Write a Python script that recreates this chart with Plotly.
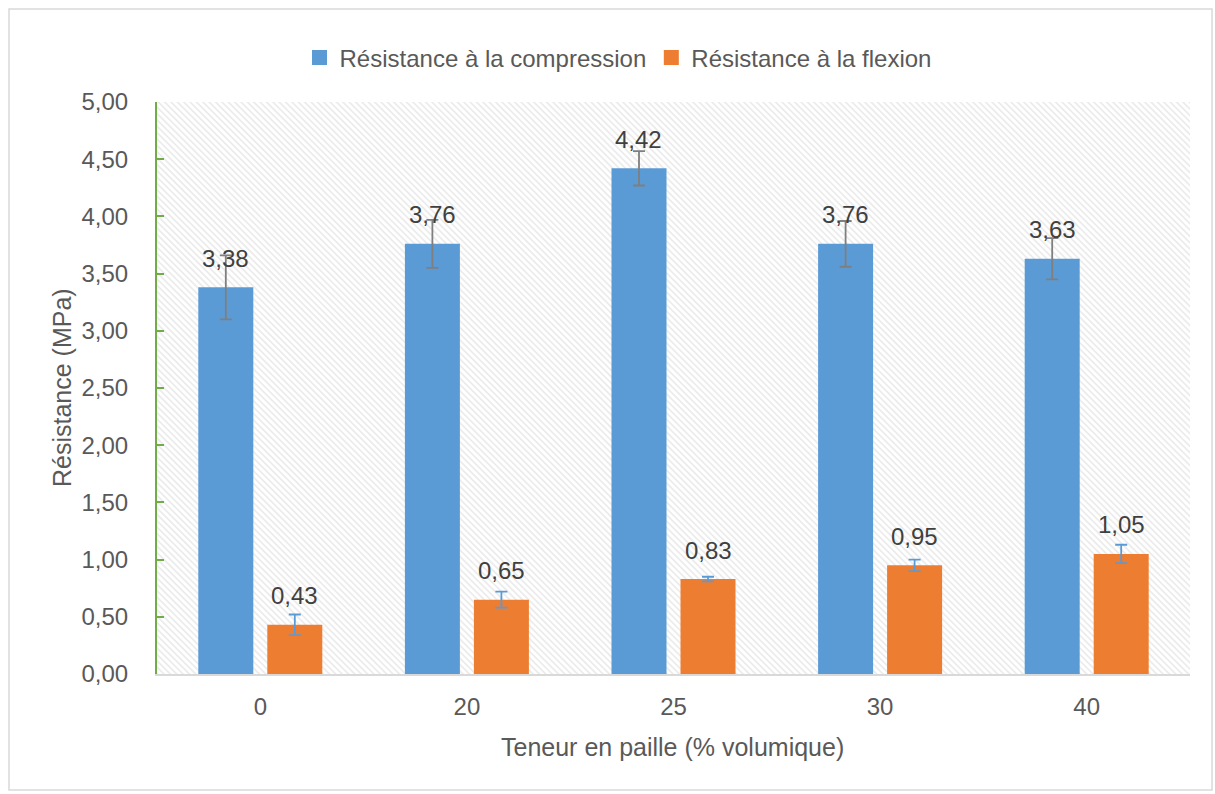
import base64
import plotly.graph_objects as go

# Straw content categories (% by volume)
categories = ["0", "20", "25", "30", "40"]

# Mean strengths (MPa) and their error margins
compression = [3.38, 3.76, 4.42, 3.76, 3.63]
compression_err = [0.28, 0.21, 0.15, 0.20, 0.18]
flexion = [0.43, 0.65, 0.83, 0.95, 1.05]
flexion_err = [0.09, 0.07, 0.02, 0.05, 0.08]

y_ticks = [0, 0.5, 1, 1.5, 2, 2.5, 3, 3.5, 4, 4.5, 5]

BLUE = "#5b9bd5"
ORANGE = "#ed7d31"
TEXT = "#595959"
FONT = "Liberation Sans, Arial"

W, H = 1215, 794
ML, MR, MT, MB = 157, 25, 102, 120
PW, PH = W - ML - MR, H - MT - MB
BARGAP, GROUPGAP = 0.332, 0.203


def fr(v):
    return f"{v:.2f}".replace(".", ",")


# Light diagonal hatching for the plotting area
svg = (
    f'<svg xmlns="http://www.w3.org/2000/svg" width="{PW}" height="{PH}" viewBox="0 0 {PW} {PH}">'
    '<defs><pattern id="h" width="4.5" height="4.5" patternUnits="userSpaceOnUse" patternTransform="rotate(-45)">'
    '<rect x="0" y="0" width="1.8" height="4.5" fill="#ececec"/></pattern></defs>'
    f'<rect width="{PW}" height="{PH}" fill="#ffffff"/>'
    f'<rect width="{PW}" height="{PH}" fill="url(#h)"/></svg>'
)
hatch_src = "data:image/svg+xml;base64," + base64.b64encode(svg.encode()).decode()

idx = list(range(len(categories)))

fig = go.Figure()
fig.add_trace(go.Bar(
    name="Résistance à la compression", x=idx, y=compression, showlegend=False,
    marker=dict(color=BLUE, line=dict(width=0)),
    error_y=dict(type="data", array=compression_err, color="#7f7f7f", thickness=1.8, width=6),
))
fig.add_trace(go.Bar(
    name="Résistance à la flexion", x=idx, y=flexion, showlegend=False,
    marker=dict(color=ORANGE, line=dict(width=0)),
    error_y=dict(type="data", array=flexion_err, color=BLUE, thickness=1.8, width=6),
))
# Legend entries with square swatches
for name, col in (("Résistance à la compression", BLUE), ("Résistance à la flexion", ORANGE)):
    fig.add_trace(go.Scatter(
        x=[None], y=[None], mode="markers", name=name,
        marker=dict(symbol="square", size=15, color=col),
    ))

# Value labels above each bar
slot_px = PW / len(categories) * (1 - BARGAP) / 2
annotations = []
for series, shift in ((compression, -slot_px / 2), (flexion, slot_px / 2)):
    for i, v in zip(idx, series):
        annotations.append(dict(
            x=i, y=v, xref="x", yref="y", text=fr(v), showarrow=False,
            xshift=shift, yshift=29, yanchor="middle",
            font=dict(family=FONT, size=24, color="#404040"),
        ))

# Axis titles
annotations.append(dict(
    x=(62 - ML) / PW, y=0.5, xref="paper", yref="paper", text="Résistance (MPa)",
    textangle=-90, showarrow=False, xanchor="center", yanchor="middle",
    font=dict(family=FONT, size=25, color=TEXT),
))
annotations.append(dict(
    x=(672 - ML) / PW, y=(H - MB - 747) / PH, xref="paper", yref="paper",
    text="Teneur en paille (% volumique)", showarrow=False,
    xanchor="center", yanchor="middle",
    font=dict(family=FONT, size=25, color=TEXT),
))

fig.update_layout(
    width=W, height=H,
    margin=dict(l=ML, r=MR, t=MT, b=MB, pad=0),
    paper_bgcolor="white", plot_bgcolor="rgba(0,0,0,0)",
    barmode="group", bargap=BARGAP, bargroupgap=GROUPGAP,
    separators=", ",
    font=dict(family=FONT, size=24, color=TEXT),
    showlegend=True,
    legend=dict(
        orientation="h", x=(618 - ML) / PW, y=(H - MB - 58) / PH,
        xanchor="center", yanchor="middle",
        font=dict(family=FONT, size=24, color=TEXT),
        traceorder="normal", itemsizing="trace",
    ),
    annotations=annotations,
    images=[dict(
        source=hatch_src, xref="paper", yref="paper", x=0, y=1,
        sizex=1, sizey=1, xanchor="left", yanchor="top",
        sizing="stretch", layer="below",
    )],
    shapes=[dict(
        type="rect", xref="paper", yref="paper",
        x0=(9 - ML) / PW, x1=(1212 - ML) / PW,
        y0=(H - MB - 790) / PH, y1=(H - MB - 9) / PH,
        line=dict(color="#d9d9d9", width=1.5), fillcolor="rgba(0,0,0,0)", layer="below",
    )],
)

fig.update_xaxes(
    range=[-0.5, len(categories) - 0.5],
    tickmode="array", tickvals=idx, ticktext=categories,
    showgrid=False, zeroline=False,
    showline=True, linecolor="#d9d9d9", linewidth=2,
    ticks="", ticklabelstandoff=10,
    tickfont=dict(family=FONT, size=24, color=TEXT),
    automargin=False,
)
fig.update_yaxes(
    range=[0, 5], tickvals=y_ticks, tickformat=".2f",
    showgrid=False, zeroline=False,
    showline=True, linecolor="#70ad47", linewidth=2,
    ticks="inside", ticklen=7, tickcolor="#70ad47", tickwidth=2,
    ticklabelstandoff=22,
    tickfont=dict(family=FONT, size=24, color=TEXT),
    automargin=False,
)

fig.write_html("out.html")
